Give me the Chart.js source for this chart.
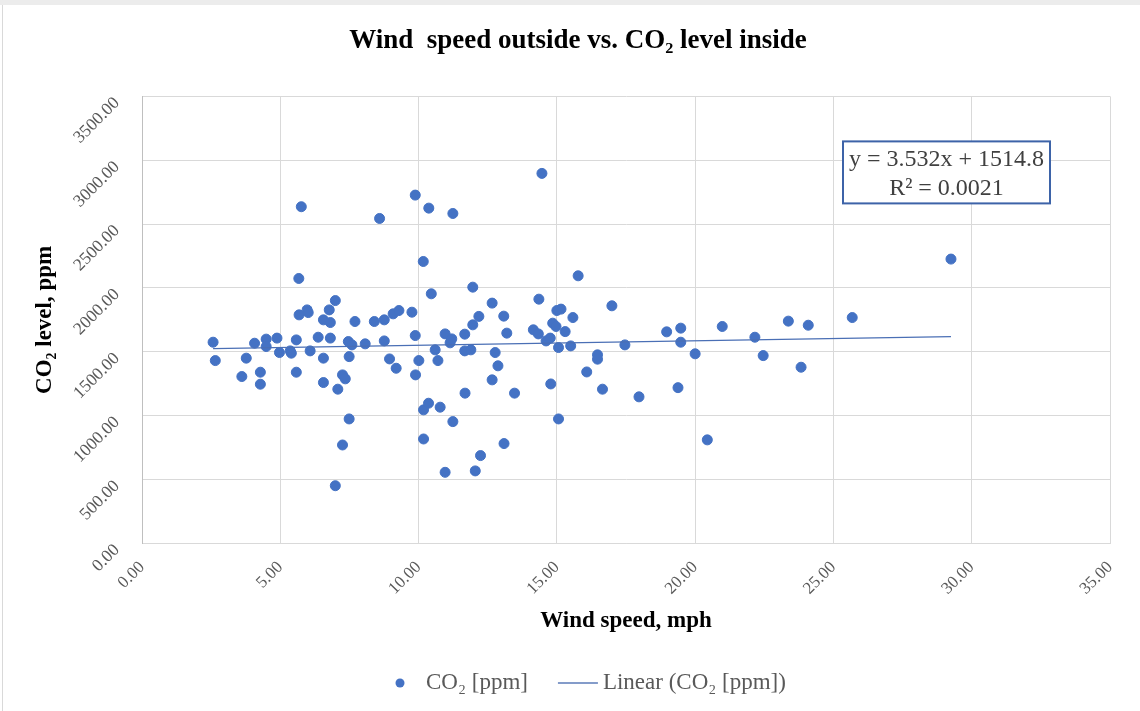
<!DOCTYPE html>
<html>
<head>
<meta charset="utf-8">
<title>Wind speed outside vs. CO2 level inside</title>
<script src="https://cdn.jsdelivr.net/npm/chart.js@4.4.0/dist/chart.umd.min.js"></script>
<style>
  html, body { margin: 0; padding: 0; background: #fff; }
</style>
</head>
<body>
<canvas id="chart" width="1140" height="711"></canvas>
<script>
(function () {
    "use strict";

    // Wind speed (mph) and CO2 (ppm), one entry per observation
    var windSpeed = [
        2.57, 2.65, 3.61, 3.77, 4.07, 4.28, 4.28, 4.49, 4.49, 4.88,
        4.97, 5.36, 5.40, 5.58, 5.58, 5.67, 5.68, 5.76, 5.97, 6.01,
        6.08, 6.37, 6.56, 6.56, 6.56, 6.77, 6.81, 6.81, 6.99, 6.99,
        7.08, 7.25, 7.35, 7.25, 7.46, 7.59, 7.49, 7.49, 7.70, 8.07,
        8.40, 8.59, 8.76, 8.76, 8.95, 9.08, 9.19, 9.29, 9.76, 9.88,
        9.88, 9.89, 10.01, 10.17, 10.18, 10.18, 10.36, 10.37, 10.46, 10.60,
        10.70, 10.78, 10.96, 10.96, 11.14, 11.20, 11.24, 11.24, 11.67, 11.67,
        11.68, 11.89, 11.96, 11.96, 12.05, 12.18, 12.24, 12.66, 12.66, 12.77,
        12.87, 13.08, 13.09, 13.19, 13.47, 14.15, 14.33, 14.35, 14.46, 14.61,
        14.76, 14.78, 14.85, 14.97, 15.00, 15.06, 15.06, 15.15, 15.30, 15.50,
        15.58, 15.77, 16.08, 16.47, 16.47, 16.65, 16.99, 17.46, 17.97, 18.97,
        19.48, 19.48, 19.38, 20.00, 20.44, 20.98, 22.16, 22.46, 23.37, 23.83,
        24.09, 25.68, 29.25
    ];
    var co2 = [
        1575, 1431, 1306, 1450, 1567, 1340, 1246, 1599, 1541, 1607,
        1494, 1507, 1489, 1593, 1340, 2074, 1789, 2636, 1828, 1807,
        1507, 1614, 1750, 1450, 1259, 1828, 1729, 1607, 1901, 451,
        1207, 1319, 1288, 770, 1580, 1554, 1462, 974, 1737, 1562,
        1737, 2544, 1750, 1585, 1444, 1797, 1371, 1823, 1810, 2727,
        1627, 1319, 1431, 2207, 1045, 817, 1097, 2625, 1954, 1515,
        1431, 1066, 1640, 556, 1570, 1601, 2583, 953, 1638, 1507,
        1176, 1515, 2006, 1711, 567, 1777, 687, 1881, 1280, 1494,
        1390, 1779, 781, 1646, 1176, 1672, 1640, 1912, 2897, 1585,
        1607, 1248, 1724, 1698, 1823, 1533, 974, 1834, 1658, 1546,
        1768, 2095, 1342, 1476, 1442, 1207, 1860, 1554, 1147, 1656,
        1685, 1575, 1219, 1484, 810, 1698, 1614, 1470, 1740, 1379,
        1708, 1768, 2226
    ];

    // Trendline as printed on the chart
    var trendSlope = 3.532;
    var trendIntercept = 1514.8;
    var trendR2 = 0.0021;

    var xTicks = [0, 5, 10, 15, 20, 25, 30, 35];
    var yTicks = [0, 500, 1000, 1500, 2000, 2500, 3000, 3500];

    var seriesLabel = 'CO\u2082 [ppm]';
    var trendLabel = 'Linear (CO\u2082 [ppm])';

    var points = windSpeed.map(function (w, i) {
        return {x: w, y: co2[i]};
    });
    var xMin = Math.min.apply(null, windSpeed);
    var xMax = Math.max.apply(null, windSpeed);
    var trend = [
        {x: xMin, y: trendIntercept + trendSlope * xMin},
        {x: xMax, y: trendIntercept + trendSlope * xMax}
    ];

    var blue = '#4472C4';
    var grey = '#595959';
    var serif = '"Liberation Serif", "Times New Roman", serif';

    // frame, equation box and legend
    var overlay = {
        id: 'overlay',
        beforeDraw: function (chart) {
            var ctx = chart.ctx;
            ctx.save();
            ctx.fillStyle = '#fff';
            ctx.fillRect(0, 0, chart.width, chart.height);
            ctx.fillStyle = '#ececec';
            ctx.fillRect(0, 0, chart.width, 5);
            ctx.strokeStyle = '#d9d9d9';
            ctx.lineWidth = 1;
            ctx.beginPath();
            ctx.moveTo(2.5, 5);
            ctx.lineTo(2.5, chart.height);
            ctx.stroke();
            ctx.restore();
        },
        afterDraw: function (chart) {
            var ctx = chart.ctx;
            var a = chart.chartArea;
            ctx.save();

            // equation box
            var bw = 207, bh = 62;
            var bx = a.right - 60 - bw;
            var by = a.top + 45;
            ctx.fillStyle = '#fff';
            ctx.fillRect(bx, by, bw, bh);
            ctx.strokeStyle = '#3d63a8';
            ctx.lineWidth = 2;
            ctx.strokeRect(bx, by, bw, bh);
            ctx.fillStyle = '#404040';
            ctx.font = '24px ' + serif;
            ctx.textAlign = 'center';
            ctx.textBaseline = 'middle';
            ctx.fillText('y = ' + trendSlope + 'x + ' + trendIntercept, bx + bw / 2, by + 18);
            ctx.fillText('R\u00B2 = ' + trendR2.toFixed(4), bx + bw / 2, by + 47);

            // legend
            var ly = 683;
            var lx = 400;
            ctx.font = '23px ' + serif;
            ctx.textAlign = 'left';
            ctx.fillStyle = blue;
            ctx.beginPath();
            ctx.arc(lx, ly, 4.5, 0, Math.PI * 2);
            ctx.fill();
            ctx.fillStyle = grey;
            ctx.fillText(seriesLabel, lx + 26, ly);
            var l2 = lx + 26 + ctx.measureText(seriesLabel).width + 30;
            ctx.strokeStyle = '#5b7bb8';
            ctx.lineWidth = 1.5;
            ctx.beginPath();
            ctx.moveTo(l2, ly);
            ctx.lineTo(l2 + 40, ly);
            ctx.stroke();
            ctx.fillText(trendLabel, l2 + 45, ly);

            ctx.restore();
        }
    };

    var ctx = document.getElementById('chart').getContext('2d');
    new Chart(ctx, {
        type: 'scatter',
        data: {
            datasets: [{
                label: trendLabel,
                type: 'line',
                data: trend,
                borderColor: '#4a6fb5',
                borderWidth: 1.3,
                pointRadius: 0,
                fill: false,
                showLine: true,
                order: 0
            }, {
                label: seriesLabel,
                data: points,
                backgroundColor: blue,
                borderColor: blue,
                pointRadius: 5,
                pointHoverRadius: 5,
                order: 1
            }]
        },
        options: {
            responsive: false,
            animation: false,
            layout: {padding: {left: 46, right: 30, top: 0, bottom: 0}},
            plugins: {
                legend: {display: false},
                tooltip: {enabled: false},
                title: {
                    display: true,
                    text: 'Wind  speed outside vs. CO\u2082 level inside',
                    color: '#000',
                    font: {family: serif, size: 27, weight: 'bold'},
                    padding: {top: 25, bottom: 39}
                }
            },
            scales: {
                x: {
                    type: 'linear',
                    min: xTicks[0],
                    max: xTicks[xTicks.length - 1],
                    afterBuildTicks: function (scale) {
                        scale.ticks = xTicks.map(function (v) { return {value: v}; });
                    },
                    afterFit: function (scale) { scale.height = 167.7; },
                    grid: {color: '#d9d9d9', drawTicks: false},
                    border: {color: '#d9d9d9'},
                    ticks: {
                        minRotation: 45,
                        maxRotation: 45,
                        padding: 14,
                        color: grey,
                        font: {family: serif, size: 17},
                        callback: function (v) { return Number(v).toFixed(2); }
                    },
                    title: {
                        display: true,
                        text: 'Wind speed, mph',
                        color: '#000',
                        font: {family: serif, size: 23, weight: 'bold'},
                        padding: {top: 0, bottom: 76}
                    }
                },
                y: {
                    type: 'linear',
                    min: yTicks[0],
                    max: yTicks[yTicks.length - 1],
                    afterBuildTicks: function (scale) {
                        scale.ticks = yTicks.map(function (v) { return {value: v}; });
                    },
                    afterFit: function (scale) { scale.width = 96; },
                    grid: {color: '#d9d9d9', drawTicks: false},
                    border: {color: '#bfbfbf'},
                    ticks: {
                        minRotation: 45,
                        maxRotation: 45,
                        padding: 25,
                        labelOffset: 4,
                        color: grey,
                        font: {family: serif, size: 17.5},
                        callback: function (v) { return Number(v).toFixed(2); }
                    },
                    title: {
                        display: true,
                        text: 'CO\u2082 level, ppm',
                        color: '#000',
                        font: {family: serif, size: 23, weight: 'bold'},
                        padding: {top: -15, bottom: 0}
                    }
                }
            }
        },
        plugins: [overlay]
    });
})();
</script>
</body>
</html>
